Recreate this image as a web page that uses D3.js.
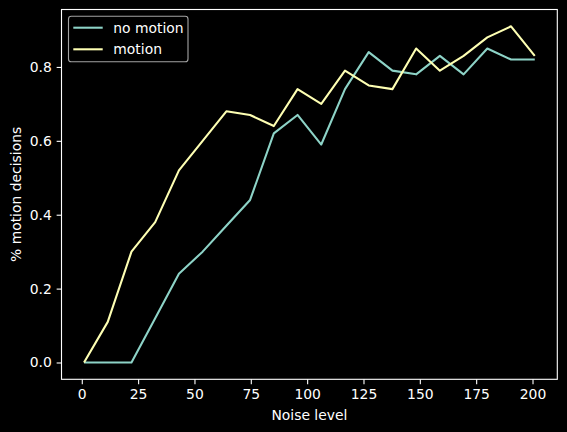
<!DOCTYPE html>
<html><head><meta charset="utf-8">
<script src="https://cdn.jsdelivr.net/npm/d3@7"></script>
<style>
html,body{margin:0;padding:0;background:#000;}
svg{display:block;}
text{font-family:"DejaVu Sans",sans-serif;fill:#fff;}
</style></head>
<body><svg id="c" width="567" height="432"></svg>
<script>
const noiseLevels = d3.range(20).map(i => 1 + i * 200 / 19);
const noMotion = [0, 0, 0, 0.12, 0.24, 0.30, 0.37, 0.44, 0.62, 0.67, 0.59, 0.74, 0.84, 0.79, 0.78, 0.83, 0.78, 0.85, 0.82, 0.82];
const motion   = [0, 0.11, 0.30, 0.38, 0.52, 0.60, 0.68, 0.67, 0.64, 0.74, 0.70, 0.79, 0.75, 0.74, 0.85, 0.79, 0.83, 0.88, 0.91, 0.83];
const seriesNames = ["no motion", "motion"];
const seriesColors = ["#8dd3c7", "#feffb3"];
const xTicks = [0, 25, 50, 75, 100, 125, 150, 175, 200];
const yTicks = [0.0, 0.2, 0.4, 0.6, 0.8];

const svg = d3.select("#c");
const L = 61.5, R = 557.3, T = 9.5, B = 379.3;
const fs = 13.9;

const x = d3.scaleLinear().domain([-9, 211]).range([L, R]);
const y = d3.scaleLinear().domain([-0.0455, 0.9555]).range([B, T]);

svg.append("rect").attr("width",567).attr("height",432).attr("fill","#000");

const series = [noMotion, motion];
const line = d3.line().x((d,i)=>x(noiseLevels[i])).y(d=>y(d));
series.forEach((s,k)=>{
  svg.append("path").datum(s).attr("d", line).attr("fill","none")
    .attr("stroke", seriesColors[k]).attr("stroke-width",2.08)
    .attr("stroke-linejoin","round").attr("stroke-linecap","butt");
});

// spines
svg.append("rect").attr("x",L).attr("y",T).attr("width",R-L).attr("height",B-T)
  .attr("fill","none").attr("stroke","#fff").attr("stroke-width",1.11);

const xa = svg.append("g").attr("transform",`translate(0,${B})`)
  .call(d3.axisBottom(x).tickValues(xTicks).tickFormat(d3.format("d")).tickSize(4.86).tickSizeOuter(0).tickPadding(4.86));
const ya = svg.append("g").attr("transform",`translate(${L},0)`)
  .call(d3.axisLeft(y).tickValues(yTicks).tickFormat(d3.format(".1f")).tickSize(4.86).tickSizeOuter(0).tickPadding(4.86));
[xa,ya].forEach(a=>{
  a.select(".domain").remove();
  a.selectAll(".tick line").attr("stroke","#fff").attr("stroke-width",1.11);
  a.selectAll(".tick text").attr("fill","#fff").style("font-size",fs+"px").style("font-family","DejaVu Sans");
});

svg.append("text").attr("x",(L+R)/2).attr("y",420).attr("text-anchor","middle")
  .style("font-size",fs+"px").text("Noise level");
svg.append("text").attr("transform",`translate(21,${(T+B)/2}) rotate(-90)`).attr("text-anchor","middle")
  .style("font-size",fs+"px").text("% motion decisions");

// legend
const lg = svg.append("g");
lg.append("rect").attr("x",68.5).attr("y",16.3).attr("width",119.5).attr("height",45.5)
  .attr("rx",2.8).attr("fill","#000").attr("fill-opacity",0.8)
  .attr("stroke","#cccccc").attr("stroke-opacity",0.8).attr("stroke-width",1.11);
seriesNames.forEach((n,k)=>{
  const ly = 27.7 + k*21.6;
  lg.append("line").attr("x1",73.3).attr("x2",102.7).attr("y1",ly).attr("y2",ly)
    .attr("stroke",seriesColors[k]).attr("stroke-width",2.08);
  lg.append("text").attr("x",113.3).attr("y",ly+5).style("font-size",fs+"px").text(n);
});
</script></body></html>
